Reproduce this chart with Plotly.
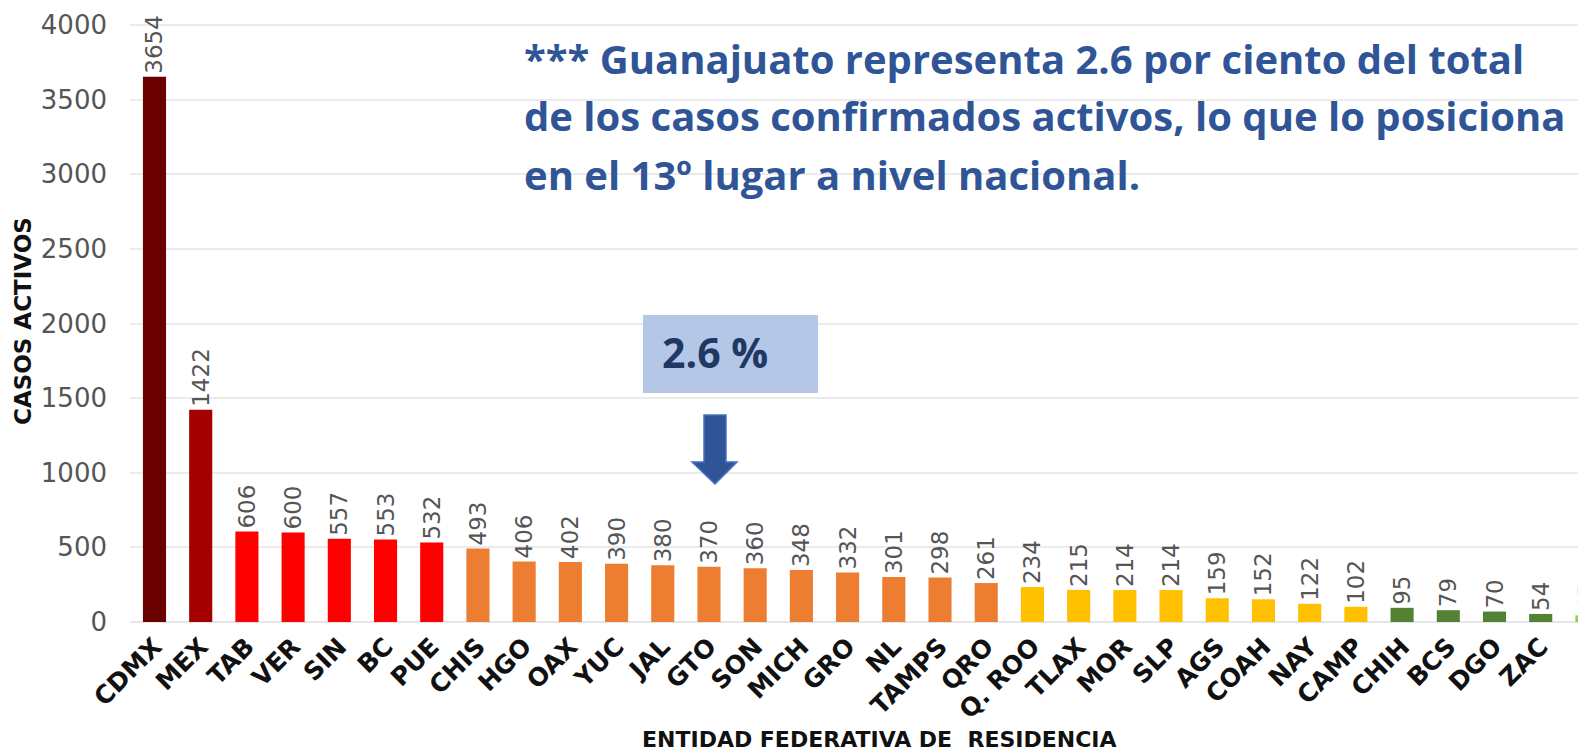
import plotly.graph_objects as go

estados = ["CDMX", "MEX", "TAB", "VER", "SIN", "BC", "PUE", "CHIS", "HGO", "OAX", "YUC",
           "JAL", "GTO", "SON", "MICH", "GRO", "NL", "TAMPS", "QRO", "Q. ROO", "TLAX", "MOR",
           "SLP", "AGS", "COAH", "NAY", "CAMP", "CHIH", "BCS", "DGO", "ZAC", "COL"]
casos = [3654, 1422, 606, 600, 557, 553, 532, 493, 406, 402, 390,
         380, 370, 360, 348, 332, 301, 298, 261, 234, 215, 214,
         214, 159, 152, 122, 102, 95, 79, 70, 54, 45]
colores = (["#6B0000", "#A50000"] + ["#FF0000"] * 5 + ["#ED7D31"] * 12 +
           ["#FFC000"] * 8 + ["#548235"] * 4 + ["#92D050"])
y_ticks = [0, 500, 1000, 1500, 2000, 2500, 3000, 3500, 4000]

OFF = 8  # default body margin of the page
W, H = 1586 - OFF, 755 - OFF
L, R, T, B = 122, 0, 0, 133

def px_x(p):
    return (p - OFF - L) / (W - L - R)

def px_y(p):
    return 1 - (p - OFF - T) / (H - T - B)

fig = go.Figure(go.Bar(
    x=estados, y=casos, marker=dict(color=colores, line=dict(width=0)),
    text=[str(v) for v in casos], textposition="outside", textangle=-90,
    constraintext="none",
    textfont=dict(family="DejaVu Sans", size=23, color="#555555"),
    cliponaxis=True,
))

fig.update_layout(
    width=W, height=H, margin=dict(l=L, r=R, t=T, b=B, pad=0),
    paper_bgcolor="white", plot_bgcolor="white", showlegend=False, bargap=0.5,
    xaxis=dict(range=[-0.53, 30.98], tickangle=-45, showgrid=False,
               tickfont=dict(family="DejaVu Sans", size=25, color="#111111", weight="bold"),
               ticklabelstandoff=4, showline=False, zeroline=False),
    yaxis=dict(range=[0, 4114], tickvals=y_ticks, showgrid=True, gridcolor="#EBEBEB",
               gridwidth=1.5, zeroline=True, zerolinecolor="#E6E6E6", zerolinewidth=2,
               tickfont=dict(family="DejaVu Sans", size=26, color="#555555"),
               ticklabelstandoff=22, showline=False),
)

# axis titles
fig.add_annotation(text="<b>CASOS ACTIVOS</b>", xref="paper", yref="paper",
                   x=px_x(23), y=px_y(321), xanchor="center", yanchor="middle",
                   textangle=-90, showarrow=False,
                   font=dict(family="DejaVu Sans", size=23, color="#111111"))
fig.add_annotation(text="<b>ENTIDAD FEDERATIVA DE  RESIDENCIA</b>", xref="paper", yref="paper",
                   x=px_x(880), y=px_y(739), xanchor="center", yanchor="middle", showarrow=False,
                   borderpad=0,
                   font=dict(family="DejaVu Sans", size=22, color="#111111"))

# headline text
lineas = ["*** Guanajuato representa 2.6 por ciento del total",
          "de los casos confirmados activos, lo que lo posiciona",
          "en el 13º lugar a nivel nacional."]
for i, ln in enumerate(lineas):
    fig.add_annotation(text="<b>%s</b>" % ln, xref="paper", yref="paper",
                       x=px_x(522), y=px_y(58 + 58 * i), xanchor="left", yanchor="middle",
                       showarrow=False,
                       font=dict(family="Open Sans", size=40, color="#2F5597"))

# 2.6 % box
fig.add_shape(type="rect", xref="paper", yref="paper",
              x0=px_x(643), x1=px_x(818), y0=px_y(393), y1=px_y(315),
              fillcolor="#B4C7E7", line=dict(width=0), layer="above")
fig.add_annotation(text="<b>2.6 %</b>", xref="paper", yref="paper",
                   x=px_x(660), y=px_y(352), xanchor="left", yanchor="middle", showarrow=False,
                   font=dict(family="Open Sans", size=41, color="#1F3864"))

# arrow
pts = [(704, 415), (726, 415), (726, 462), (737, 462), (715, 484), (692, 462), (704, 462)]
path = "M " + " L ".join("%f,%f" % (px_x(a), px_y(b)) for a, b in pts) + " Z"
fig.add_shape(type="path", xref="paper", yref="paper", path=path,
              fillcolor="#2F5597", line=dict(color="#4472C4", width=1.5), layer="above")

fig.write_html("out.html")
